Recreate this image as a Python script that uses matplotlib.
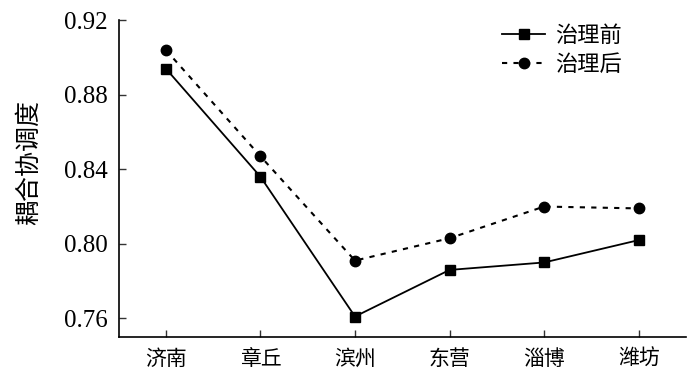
import matplotlib
matplotlib.use("Agg")
import matplotlib.pyplot as plt

cities = ["济南", "章丘", "滨州", "东营", "淄博", "潍坊"]
before = [0.894, 0.836, 0.761, 0.786, 0.790, 0.802]
after = [0.904, 0.847, 0.791, 0.803, 0.820, 0.819]
yticks = [0.76, 0.80, 0.84, 0.88, 0.92]

cjk = ["Noto Sans CJK SC", "DejaVu Sans"]
num = ["Liberation Serif", "DejaVu Serif"]

fig = plt.figure(figsize=(7, 3.88), dpi=100)
ax = fig.add_axes([0.1694, 0.1314, 0.8106, 0.8166])

x = list(range(len(cities)))
ax.plot(x, before, color="black", lw=1.3, marker="s", ms=7.5, label="治理前")
ax.plot(x, after, color="black", lw=1.5, ls=(0, (2.5, 3)), marker="o", ms=7.5,
        label="治理后")

ax.set_xlim(-0.5, 5.5)
ax.set_ylim(0.75, 0.92)
ax.set_xticks(x)
ax.set_xticklabels(cities, family=cjk, fontsize=15, fontweight="light")
ax.set_yticks(yticks)
ax.set_yticklabels(["%.2f" % v for v in yticks], family=num, fontsize=18)
ax.tick_params(axis="both", direction="in", length=5, width=1, color="#333333")
ax.tick_params(axis="x", pad=8)
ax.tick_params(axis="y", pad=8)

for s in ["top", "right"]:
    ax.spines[s].set_visible(False)
for s in ["left", "bottom"]:
    ax.spines[s].set_linewidth(1.2)

ax.set_ylabel("耦合协调度", family=cjk, fontsize=18, fontweight="light")
ax.yaxis.set_label_coords(-0.135, 0.55)

leg = ax.legend(loc="upper right", frameon=False,
                prop={"family": cjk, "size": 16, "weight": "light"},
                handlelength=1.95, handletextpad=0.45, borderaxespad=0,
                labelspacing=0.27, bbox_to_anchor=(0.903, 1.016))

fig.savefig("out.png", dpi=100)
